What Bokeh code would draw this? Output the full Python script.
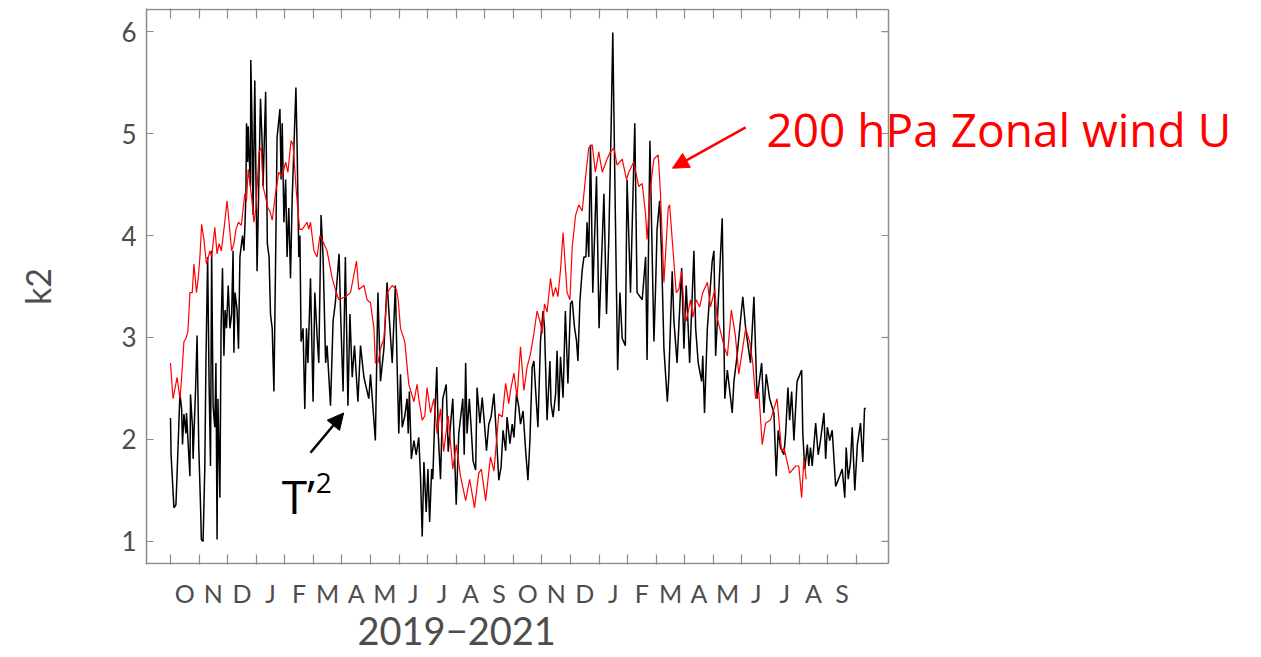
from bokeh.plotting import figure
from bokeh.models import Range1d, LinearAxis, FixedTicker, Arrow, NormalHead, Label, Title
from bokeh.embed import file_html
from bokeh.resources import INLINE

# Daily k2 indices, x in months since 1 Oct 2019
t2_month = [
    0.00, 0.02, 0.12, 0.19, 0.23, 0.33, 0.39, 0.42, 0.47, 0.54, 0.56, 0.62, 0.68, 0.70, 0.77, 0.79,
    0.88, 0.93, 0.99, 1.05, 1.08, 1.14, 1.20, 1.24, 1.30, 1.35, 1.40, 1.44, 1.49, 1.55, 1.59, 1.63,
    1.66, 1.73, 1.77, 1.82, 1.87, 1.91, 1.96, 2.02, 2.08, 2.14, 2.19, 2.22, 2.26, 2.33, 2.38, 2.43,
    2.52, 2.57, 2.61, 2.64, 2.66, 2.70, 2.72, 2.75, 2.80, 2.81, 2.85, 2.89, 2.95, 3.03, 3.15, 3.20,
    3.24, 3.33, 3.39, 3.45, 3.50, 3.56, 3.62, 3.68, 3.73, 3.83, 3.87, 3.91, 3.97, 4.03, 4.08, 4.14,
    4.20, 4.26, 4.39, 4.43, 4.49, 4.53, 4.57, 4.64, 4.70, 4.76, 4.81, 4.90, 4.99, 5.05, 5.13, 5.19,
    5.27, 5.34, 5.43, 5.48, 5.60, 5.69, 5.77, 5.90, 5.95, 6.04, 6.12, 6.21, 6.28, 6.36, 6.44, 6.56,
    6.65, 6.77, 6.94, 7.00, 7.17, 7.26, 7.35, 7.47, 7.58, 7.68, 7.76, 7.87, 7.93, 7.99, 8.05, 8.11,
    8.20, 8.28, 8.32, 8.36, 8.43, 8.52, 8.60, 8.69, 8.75, 8.81, 8.87, 8.95, 9.01, 9.07, 9.14, 9.18,
    9.25, 9.32, 9.37, 9.45, 9.53, 9.65, 9.72, 9.88, 10.00, 10.09, 10.23, 10.28, 10.33, 10.38, 10.46,
    10.50, 10.59, 10.68, 10.73, 10.83, 10.91, 10.99, 11.06, 11.14, 11.22, 11.32, 11.41, 11.49, 11.57, 11.64, 11.73,
    11.78, 11.88, 11.96, 12.02, 12.11, 12.19, 12.25, 12.34, 12.43, 12.51, 12.58, 12.66, 12.72, 12.78, 12.86, 12.95,
    13.04, 13.09, 13.18, 13.28, 13.32, 13.39, 13.48, 13.53, 13.59, 13.65, 13.74, 13.82, 13.91, 14.00, 14.06, 14.14,
    14.21, 14.26, 14.33, 14.41, 14.47, 14.54, 14.58, 14.64,
    14.70, 14.78, 14.91, 15.00, 15.17, 15.26, 15.34, 15.42, 15.48, 15.57, 15.65, 15.73, 15.81, 15.92, 15.98, 16.10,
    16.25, 16.33, 16.51, 16.63, 16.68, 16.78, 16.86, 16.92, 16.98, 17.03, 17.12, 17.19, 17.27, 17.39, 17.44, 17.56,
    17.62, 17.73, 17.89, 17.97, 18.05, 18.12, 18.17, 18.32, 18.38, 18.47, 18.59, 18.63, 18.69, 18.79, 18.96, 19.02,
    19.08, 19.17, 19.31, 19.40, 19.49, 19.66, 19.72, 19.83, 20.03, 20.13, 20.30, 20.42, 20.53, 20.69, 20.77, 20.85,
    20.97, 21.12, 21.20, 21.27, 21.35, 21.47, 21.53, 21.61, 21.67, 21.74, 21.82, 21.93, 22.09, 22.13, 22.20, 22.29,
    22.34, 22.40, 22.46, 22.58, 22.67, 22.75, 22.87, 22.93, 22.99, 23.07, 23.16, 23.28, 23.42, 23.51, 23.60, 23.65,
    23.72, 23.80, 23.86, 23.95, 24.04, 24.15, 24.23, 24.29, 24.33,
]
t2_k2 = [
    2.21, 1.85, 1.33, 1.36, 1.66, 2.45, 2.30, 1.95, 2.25, 2.06, 2.26, 1.95, 1.64, 2.44, 2.12, 1.81,
    2.51, 3.02, 1.92, 1.36, 1.02, 1.00, 1.71, 2.75, 3.79, 2.57, 1.74, 3.85, 2.33, 2.12, 2.75, 1.02,
    2.40, 1.43, 3.09, 3.68, 2.82, 3.27, 3.09, 3.51, 3.09, 3.23, 3.85, 2.85, 3.44, 3.27, 2.89, 3.79,
    4.00, 3.85, 4.13, 4.41, 5.10, 4.72, 5.07, 4.82, 4.48, 5.72, 5.17, 4.20, 5.52, 3.65, 5.34, 4.96,
    4.48, 5.41, 3.92, 3.79, 3.23, 3.09, 2.47, 3.79, 4.96, 5.24, 4.55, 5.10, 4.13, 4.55, 3.79, 4.27,
    3.58, 4.37, 5.45, 4.89, 3.79, 4.00, 2.96, 3.09, 2.30, 3.09, 2.75, 3.58, 2.37, 3.44, 3.02, 2.75,
    4.20, 3.79, 2.75, 2.92, 2.33, 3.16, 3.34, 3.82, 3.27, 2.47, 3.79, 2.33, 3.23, 2.61, 2.92, 2.37,
    2.92, 2.61, 2.40, 2.64, 1.99, 3.44, 2.57, 2.89, 3.54, 3.09, 2.75, 3.51, 2.75, 2.06, 2.64, 2.12,
    2.23, 2.40, 2.06, 2.47, 1.81, 1.99, 1.85, 2.02, 1.64, 1.05, 1.78, 1.29, 1.71, 1.19, 1.71, 1.61,
    2.23, 2.71, 2.06, 1.61, 2.40, 2.54, 1.88, 2.40, 1.36, 2.06, 2.40, 1.85, 2.75, 2.06, 2.40,
    2.22, 1.79, 1.70, 2.51, 2.16, 2.41, 2.15, 1.89, 2.15, 2.22, 2.45, 2.02, 1.60, 1.73, 2.09, 1.89,
    2.22, 1.96, 2.15, 2.02, 2.45, 2.32, 2.15, 2.28, 1.89, 1.60, 1.99, 2.71, 2.77, 2.48, 2.12, 2.97,
    3.26, 3.10, 2.19, 2.77, 2.35, 2.22, 2.45, 2.87, 2.28, 2.81, 2.41, 3.26, 2.55, 3.33, 3.36, 3.10,
    2.97, 2.77, 3.36, 3.66, 3.79, 3.79, 4.13, 3.79,
    4.89, 3.44, 4.58, 3.09, 4.41, 3.23, 3.96, 5.03, 5.99, 4.20, 2.68, 3.44, 2.99, 2.92, 4.55, 3.44,
    5.10, 3.44, 3.37, 3.79, 2.78, 4.93, 3.79, 2.96, 3.51, 4.06, 4.34, 3.79, 2.89, 2.37, 2.61, 3.65,
    3.16, 2.75, 3.68, 2.89, 3.51, 3.09, 2.75, 3.85, 3.09, 2.75, 2.57, 2.82, 2.26, 3.09, 3.75, 3.85,
    2.82, 3.34, 4.17, 2.40, 2.68, 2.26, 2.57, 2.82, 3.40, 3.09, 2.75, 3.40, 2.40, 2.75, 2.26, 2.64,
    2.40, 2.26, 1.64, 2.09, 1.92, 1.85, 2.06, 2.51, 2.19, 2.47, 1.99, 2.57, 2.68, 2.06, 1.71, 1.95,
    1.74, 1.92, 1.74, 2.16, 1.85, 1.99, 2.26, 1.81, 2.12, 1.99, 2.09, 1.54, 1.64, 1.71, 1.43, 1.92,
    1.61, 1.78, 2.12, 1.50, 1.95, 2.16, 1.78, 2.30, 2.31,
]

u_month = [
    0.00, 0.06, 0.09, 0.23, 0.33, 0.39, 0.47, 0.54, 0.61, 0.68, 0.76, 0.82, 0.91, 0.97, 1.03, 1.09,
    1.17, 1.26, 1.38, 1.44, 1.55, 1.63, 1.70, 1.78, 1.87, 1.98, 2.05, 2.14, 2.22, 2.29, 2.38, 2.48,
    2.60, 2.66, 2.72, 2.84, 2.92, 2.99, 3.10, 3.18, 3.24, 3.30, 3.41, 3.48, 3.56, 3.67, 3.79, 3.91,
    4.03, 4.11, 4.22, 4.29, 4.41, 4.52, 4.61, 4.78, 4.84, 4.90, 5.02, 5.13, 5.23, 5.37, 5.48, 5.66,
    5.77, 5.89, 6.12, 6.30, 6.51, 6.59, 6.77, 6.88, 7.00, 7.12, 7.17, 7.26, 7.35, 7.47, 7.58, 7.76,
    7.91, 7.97, 8.05, 8.20, 8.34, 8.52, 8.63, 8.69, 8.81, 8.90, 8.98, 9.10, 9.22, 9.33, 9.45, 9.56,
    9.72, 9.88, 10.00, 10.15, 10.33, 10.47, 10.64, 10.79, 10.88, 11.03, 11.20, 11.32, 11.49, 11.61, 11.73, 11.84,
    11.90, 12.02, 12.13, 12.25, 12.37, 12.48, 12.60, 12.72, 12.83, 12.95, 13.01, 13.09, 13.18, 13.30, 13.39, 13.48,
    13.56, 13.65, 13.74, 13.88,
    13.98, 14.06, 14.18, 14.29, 14.41, 14.53, 14.64, 14.76, 14.87, 14.99, 15.11, 15.28, 15.40, 15.52, 15.63, 15.81,
    15.96, 16.04, 16.21, 16.39, 16.51, 16.63, 16.68, 16.80, 16.92, 17.07, 17.15, 17.27, 17.42, 17.47, 17.56, 17.70,
    17.79, 17.89, 17.97, 18.05, 18.20, 18.28, 18.40, 18.52, 18.63, 18.79, 18.90, 19.05, 19.13, 19.37, 19.49, 19.63,
    19.77, 19.89, 20.13, 20.27, 20.38, 20.48, 20.59, 20.71, 20.83, 21.00, 21.23, 21.39, 21.47, 21.67, 21.88, 21.99,
    22.09, 22.17, 22.25,
]
u_k2 = [
    2.75, 2.51, 2.40, 2.61, 2.40, 2.61, 2.96, 2.99, 3.06, 3.44, 3.44, 3.72, 3.44, 3.58, 3.79, 4.11,
    3.96, 3.72, 3.85, 3.79, 4.08, 3.82, 3.92, 3.85, 4.06, 4.34, 4.13, 3.85, 3.92, 4.06, 4.13, 4.10,
    4.41, 4.34, 4.65, 4.37, 4.13, 4.27, 4.82, 4.86, 4.48, 4.41, 4.27, 4.24, 4.15, 4.40, 4.62, 4.58,
    4.72, 4.62, 4.93, 4.89, 4.41, 4.06, 4.06, 4.13, 4.06, 4.13, 3.85, 3.79, 4.00, 3.92, 3.85, 3.58,
    3.47, 3.37, 3.40, 3.44, 3.75, 3.47, 3.51, 3.37, 3.34, 3.09, 2.75, 2.75, 2.89, 2.99, 3.44, 3.51,
    3.47, 3.37, 3.09, 2.96, 2.54, 2.37, 2.54, 2.40, 2.19, 2.23, 2.51, 2.26, 2.40, 2.06, 2.30, 1.88,
    2.23, 1.71, 1.95, 1.64, 1.40, 1.61, 1.33, 1.67, 1.71, 1.40, 1.83, 1.69, 2.25, 2.22, 2.55, 2.35,
    2.48, 2.65, 2.41, 2.91, 2.48, 2.71, 2.84, 3.04, 3.26, 3.14, 3.04, 3.33, 3.25, 3.58, 3.40, 3.49,
    3.40, 3.66, 4.03, 3.44,
    3.37, 3.89, 4.20, 4.30, 4.24, 4.58, 4.86, 4.89, 4.62, 4.82, 4.62, 4.75, 4.82, 4.86, 4.69, 4.75,
    4.55, 4.62, 4.72, 4.48, 4.51, 4.20, 3.96, 4.48, 4.75, 4.79, 4.41, 3.54, 4.27, 4.30, 3.96, 3.44,
    3.47, 3.65, 3.30, 3.16, 3.37, 3.20, 3.37, 3.30, 3.44, 3.54, 3.30, 3.47, 3.20, 2.92, 2.82, 3.27,
    3.02, 2.64, 3.09, 2.96, 2.75, 2.40, 2.47, 1.95, 2.16, 2.19, 2.40, 1.88, 1.92, 1.67, 1.74, 1.74,
    1.43, 1.81, 1.61,
]

month_letters = ["O", "N", "D", "J", "F", "M", "A", "M", "J", "J", "A", "S"] * 2
period_label = "2019\u22122021"
y_ticks = [1, 2, 3, 4, 5, 6]

AXIS_FONT = "Lato"
TEXT_GREY = "#4d4d4d"
FRAME_GREY = "#8c8c8c"

# plot box in data units and in pixels; the frame itself runs on to the
# right edge so the wind caption can sit across the box border
X_START, X_BOX_END = -0.84, 25.13
Y_BOX_LO, Y_BOX_HI = 0.784, 6.216
BOX_LEFT, BOX_RIGHT, BOX_TOP, BOX_BOTTOM = 146, 888, 9, 563
PAGE_W, PAGE_H = 1261, 657
px_x = (BOX_RIGHT - BOX_LEFT) / (X_BOX_END - X_START)
px_y = (BOX_BOTTOM - BOX_TOP) / (Y_BOX_HI - Y_BOX_LO)

p = figure(
    width=PAGE_W, height=PAGE_H, output_backend="svg", toolbar_location=None,
    x_range=Range1d(X_START, X_START + (PAGE_W - BOX_LEFT) / px_x),
    y_range=Range1d(Y_BOX_LO - 1 / px_y, Y_BOX_HI + 1 / px_y),
    x_axis_location=None, y_axis_location=None,
    min_border_left=BOX_LEFT, min_border_right=0,
    min_border_top=BOX_TOP - 1, min_border_bottom=PAGE_H - BOX_BOTTOM - 1,
)
p.grid.visible = False
p.outline_line_color = None


def style_axis(ax):
    ax.axis_line_color = FRAME_GREY
    ax.axis_line_width = 1.5
    ax.major_tick_line_color = FRAME_GREY
    ax.minor_tick_line_color = FRAME_GREY
    ax.major_tick_line_width = 1.2
    ax.minor_tick_line_width = 1.2
    ax.major_label_text_font = AXIS_FONT
    ax.major_label_text_color = TEXT_GREY
    ax.axis_label_text_font = AXIS_FONT
    ax.axis_label_text_color = TEXT_GREY
    ax.axis_label_text_font_style = "normal"


month_edges = list(range(25))
month_mids = [i + 0.5 for i in range(24)]

# left: k2 values
left = LinearAxis(ticker=FixedTicker(ticks=y_ticks), axis_label="k2")
style_axis(left)
left.major_tick_in = 7
left.major_tick_out = 0
left.minor_tick_in = 0
left.minor_tick_out = 0
left.major_label_text_font_size = "26px"
left.major_label_standoff = 10
left.axis_label_text_font_size = "34px"
left.axis_label_standoff = 60
p.add_layout(left, "left")

# bottom: month boundaries as ticks, month initials centred in each month
bottom = LinearAxis(
    ticker=FixedTicker(ticks=month_mids, minor_ticks=month_edges),
    major_label_overrides={m: s for m, s in zip(month_mids, month_letters)},
)
style_axis(bottom)
bottom.axis_line_color = None
bottom.major_tick_in = 0
bottom.major_tick_out = 0
bottom.minor_tick_in = 10
bottom.minor_tick_out = 0
bottom.major_label_text_font_size = "25px"
bottom.major_label_standoff = 13
p.add_layout(bottom, "below")

p.add_layout(Title(
    text=period_label, align="left", offset=357 - BOX_LEFT,
    text_font=AXIS_FONT, text_font_size="38px", text_font_style="normal",
    text_color=TEXT_GREY, standoff=9,
), "below")

# top: month boundary ticks only
top = LinearAxis(ticker=FixedTicker(ticks=[], minor_ticks=month_edges))
style_axis(top)
top.axis_line_color = None
top.major_tick_in = 0
top.major_tick_out = 0
top.minor_tick_in = 10
top.minor_tick_out = 0
top.major_label_standoff = 0
p.add_layout(top, "above")

# remaining box edges and the mirrored k2 ticks on the right side
p.segment(
    x0=[X_START, X_START, X_BOX_END], y0=[Y_BOX_LO, Y_BOX_HI, Y_BOX_LO],
    x1=[X_BOX_END, X_BOX_END, X_BOX_END], y1=[Y_BOX_LO, Y_BOX_HI, Y_BOX_HI],
    line_color=FRAME_GREY, line_width=1.5,
)
p.segment(
    x0=[X_BOX_END] * len(y_ticks), y0=y_ticks,
    x1=[X_BOX_END - 7 / px_x] * len(y_ticks), y1=y_ticks,
    line_color=FRAME_GREY, line_width=1.2,
)

# series
p.line(t2_month, t2_k2, line_color="black", line_width=1.5)
p.line(u_month, u_k2, line_color="#ff0000", line_width=1.2)

# annotations
p.add_layout(Arrow(
    end=NormalHead(size=16, fill_color="#ff0000", line_color="#ff0000"),
    x_start=20.13, y_start=5.06, x_end=17.57, y_end=4.66,
    line_color="#ff0000", line_width=2.5,
))
p.add_layout(Label(
    x=20.86, y=5.04, text="200 hPa Zonal wind U", text_font="Open Sans",
    text_font_size="46px", text_color="#ff0000", text_baseline="alphabetic",
))

p.add_layout(Arrow(
    end=NormalHead(size=16, fill_color="black", line_color="black"),
    x_start=4.90, y_start=1.87, x_end=6.06, y_end=2.26,
    line_color="black", line_width=2.5,
))
p.add_layout(Label(
    x=3.89, y=1.45, text="T\u2019", text_font="Open Sans",
    text_font_size="46px", text_color="black", text_baseline="alphabetic",
))
p.add_layout(Label(
    x=5.08, y=1.57, text="2", text_font="Open Sans",
    text_font_size="28px", text_color="black", text_baseline="alphabetic",
))

open("out.html", "w").write(file_html(p, INLINE))
